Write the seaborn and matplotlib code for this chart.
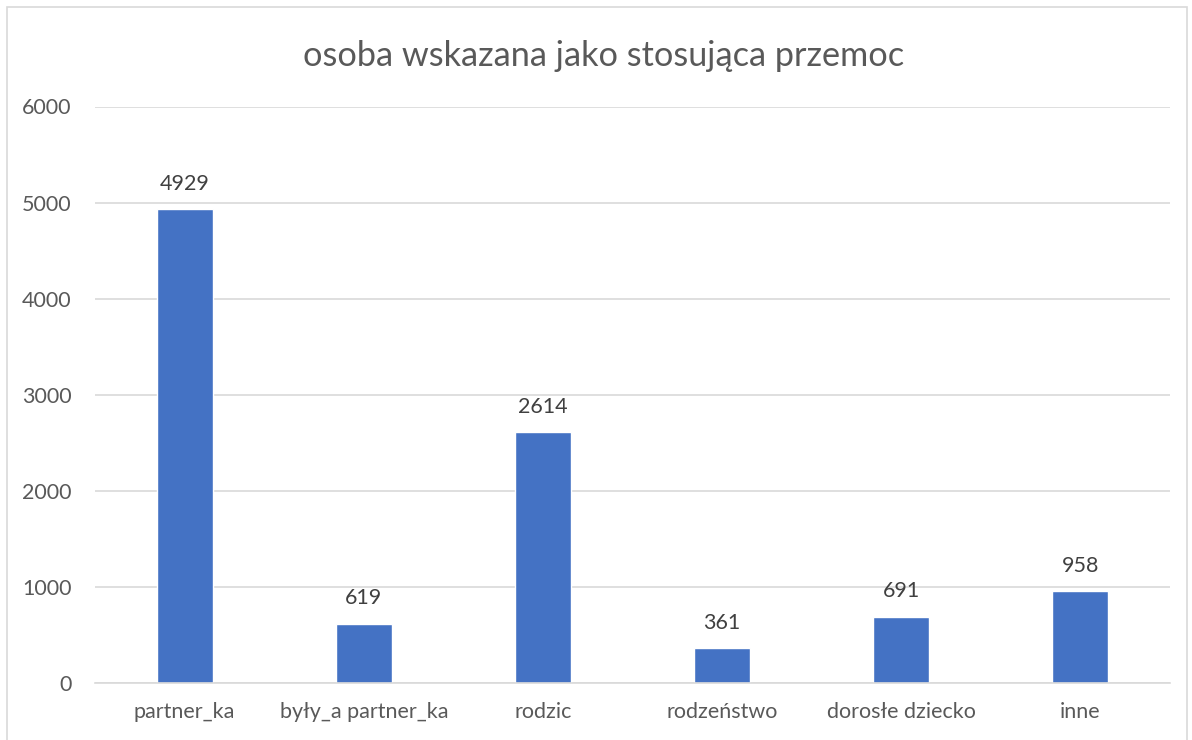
import matplotlib
matplotlib.use("Agg")
import matplotlib.pyplot as plt
import seaborn as sns
import pandas as pd
from matplotlib.patches import Rectangle

kategorie = ["partner_ka", "były_a partner_ka", "rodzic", "rodzeństwo", "dorosłe dziecko", "inne"]
liczba = [4929, 619, 2614, 361, 691, 958]
tytul = "osoba wskazana jako stosująca przemoc"

df = pd.DataFrame({"kto": kategorie, "n": liczba})

sns.set_style("white")
plt.rcParams["font.family"] = ["Lato", "DejaVu Sans"]

fig = plt.figure(figsize=(11.92, 7.4), dpi=100)
ax = fig.add_axes([95 / 1192, 57 / 740, 1075 / 1192, 576.5 / 740])

sns.barplot(data=df, x="kto", y="n", color="#4472C4", width=0.313, saturation=1, ax=ax)

ax.set_ylim(0, 6000)
ax.set_yticks(range(0, 6001, 1000))
ax.yaxis.grid(True, color="#D9D9D9", linewidth=1.2)
ax.set_axisbelow(True)
for s in ["top", "right", "left"]:
    ax.spines[s].set_visible(False)
ax.spines["bottom"].set_color("#D9D9D9")
ax.spines["bottom"].set_linewidth(1.2)
ax.set_xlabel("")
ax.set_ylabel("")
ax.tick_params(axis="y", length=0, pad=17, labelsize=15.5, labelcolor="#595959")
ax.tick_params(axis="x", length=0, pad=14, labelsize=15.5, labelcolor="#595959")

ax.bar_label(ax.containers[0], labels=[str(v) for v in liczba], padding=11,
             fontsize=15.5, color="#404040")

fig.text(604 / 1192, 1 - 56 / 740, tytul, ha="center", va="center",
         fontsize=24.7, color="#595959")

fig.patches.append(Rectangle((7 / 1192, -0.05), 1180 / 1192, 1.05 - 7 / 740,
                             transform=fig.transFigure, fill=False,
                             edgecolor="#D9D9D9", linewidth=1.2))

fig.savefig("out.png", dpi=100)
